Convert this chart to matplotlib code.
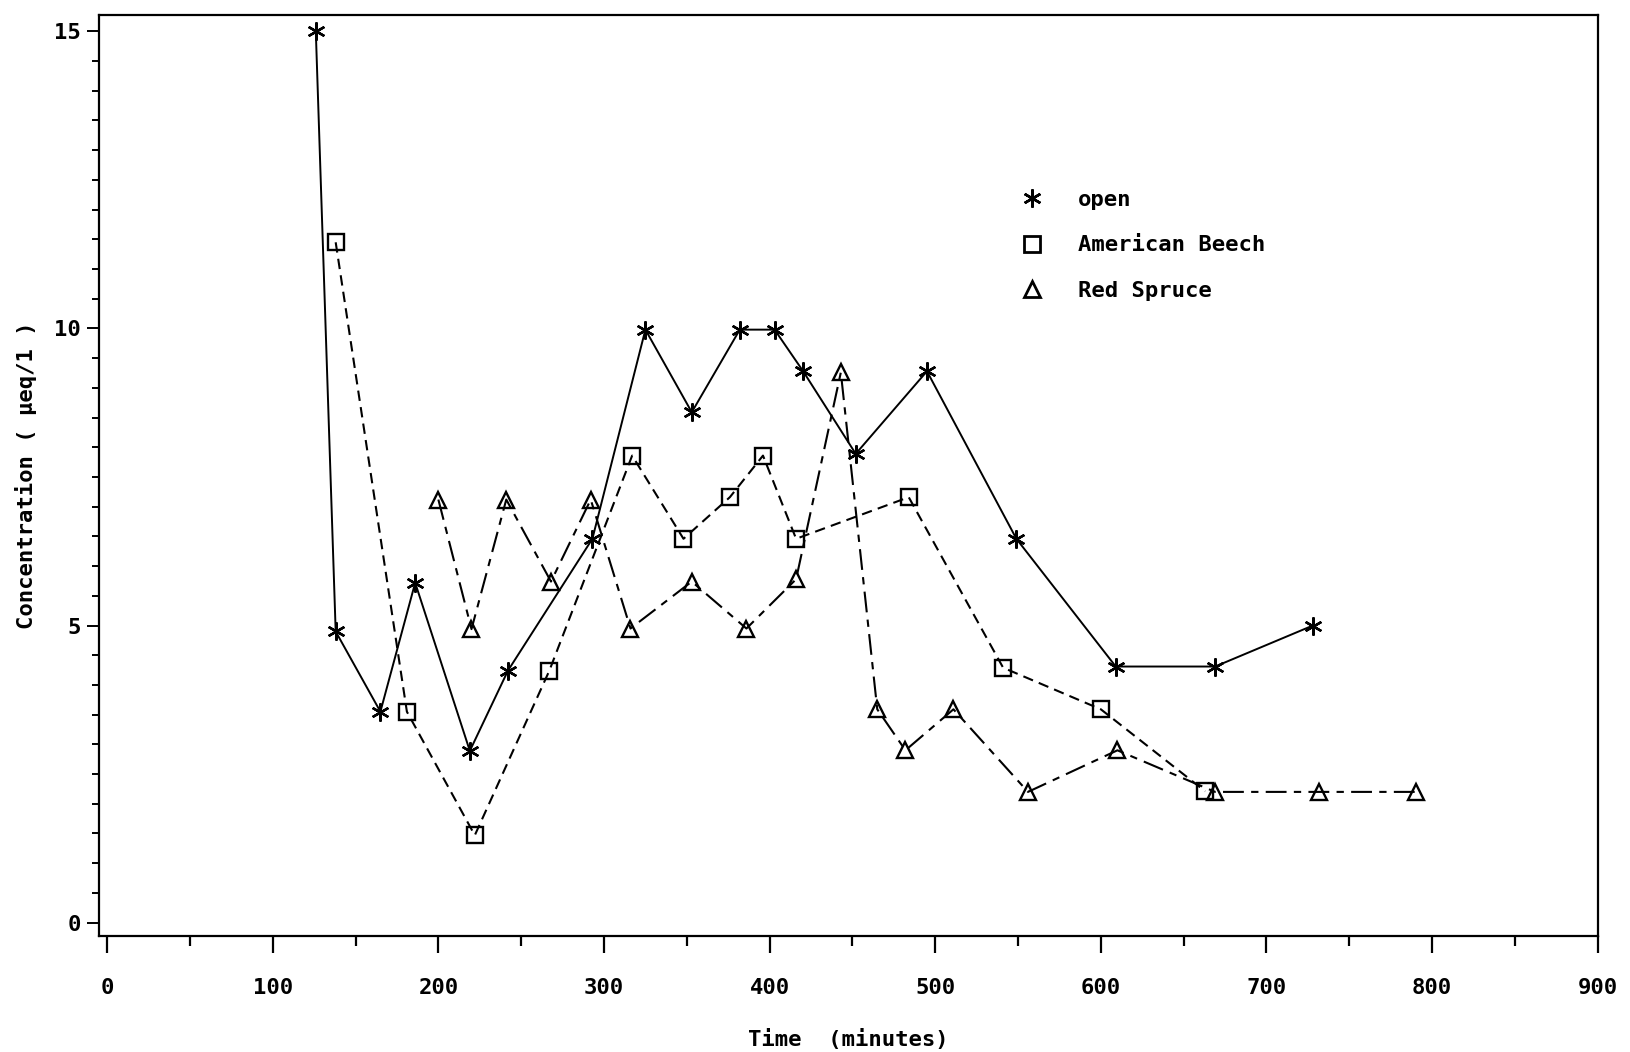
import matplotlib.pyplot as plt
from matplotlib.lines import Line2D

# open site
open_t = [126, 138, 165, 186, 219, 242, 293, 325, 353, 382, 403, 420, 452, 495, 549, 609, 669, 728]
open_c = [15.0, 4.9, 3.55, 5.72, 2.89, 4.24, 6.46, 9.98, 8.59, 9.98, 9.98, 9.29, 7.89, 9.28, 6.46, 4.31, 4.31, 5.0]

# American Beech
beech_t = [138, 181, 222, 267, 317, 348, 376, 396, 416, 484, 541, 600, 663]
beech_c = [11.45, 3.55, 1.47, 4.24, 7.86, 6.46, 7.16, 7.86, 6.46, 7.16, 4.29, 3.59, 2.21]

# Red Spruce
spruce_t = [200, 220, 241, 268, 292, 316, 353, 386, 416, 443, 465, 482, 511, 556, 610, 669, 732, 790]
spruce_c = [7.12, 4.94, 7.12, 5.74, 7.12, 4.95, 5.74, 4.95, 5.78, 9.26, 3.59, 2.9, 3.59, 2.2, 2.9, 2.2, 2.2, 2.2]

labels = ["open", "American Beech", "Red Spruce"]

FONT = {"family": "DejaVu Sans Mono", "weight": "bold", "size": 16}
asterisk = (6, 2, 0)


def main():
    fig = plt.figure(figsize=(16.31, 10.52), dpi=100)
    ax = fig.add_axes([0.0606, 0.11, 0.919, 0.876])

    ax.plot(open_t, open_c, color="black", lw=1.4, marker=asterisk, ms=13, mew=1.7)
    ax.plot(beech_t, beech_c, color="black", lw=1.5, dashes=[5, 3],
            marker="s", ms=11, mfc="none", mew=1.7)
    ax.plot(spruce_t, spruce_c, color="black", lw=1.5, dashes=[10, 3.5, 3.5, 3.5],
            marker="^", ms=12, mfc="none", mew=1.7)

    ax.set_xlim(-5, 900)
    ax.set_ylim(-0.23, 15.28)
    ax.set_xticks(range(0, 901, 100))
    ax.set_xticks(range(50, 900, 100), minor=True)
    ax.set_yticks([0, 5, 10, 15])
    ax.set_yticks([i * 0.5 for i in range(31)], minor=True)
    ax.tick_params(axis="x", which="major", direction="out", length=12, width=1.6, pad=18)
    ax.tick_params(axis="x", which="minor", direction="out", length=7, width=1.6)
    ax.tick_params(axis="y", which="major", direction="out", length=9, width=1.4, pad=4)
    ax.tick_params(axis="y", which="minor", direction="out", length=5, width=1.4)
    for lab in ax.get_xticklabels() + ax.get_yticklabels():
        lab.set_fontfamily(FONT["family"])
        lab.set_fontweight(FONT["weight"])
        lab.set_fontsize(FONT["size"])
    for sp in ax.spines.values():
        sp.set_linewidth(1.6)

    ax.set_xlabel("Time  (minutes)", fontdict=FONT, labelpad=22)
    ax.set_ylabel("Concentration ( \u03bceq/1 )", fontdict=FONT, labelpad=12)

    handles = [
        Line2D([], [], ls="none", color="black", marker=asterisk, ms=13, mew=1.8),
        Line2D([], [], ls="none", color="black", marker="s", ms=12, mfc="none", mew=2),
        Line2D([], [], ls="none", color="black", marker="^", ms=12, mfc="none", mew=2),
    ]
    ax.legend(handles, labels, loc="upper left", bbox_to_anchor=(0.6, 0.832),
              frameon=False, prop=FONT, handlelength=1.2, handletextpad=1.5,
              labelspacing=1.16)

    fig.savefig("out.png", dpi=100)


if __name__ == "__main__":
    main()
